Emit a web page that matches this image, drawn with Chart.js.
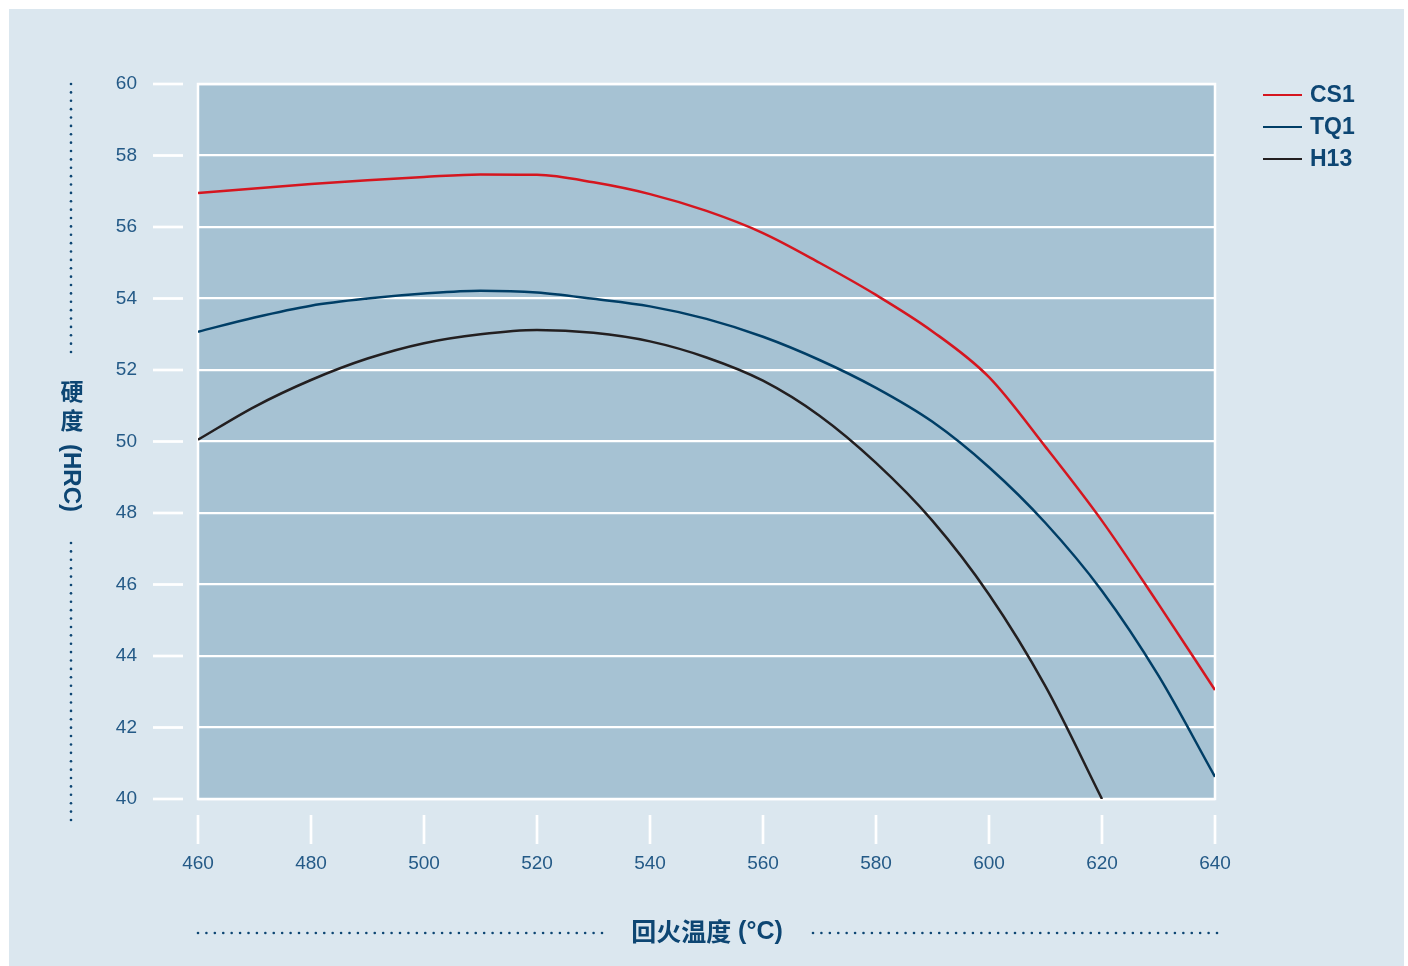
<!DOCTYPE html>
<html>
<head>
<meta charset="utf-8">
<script src="https://cdn.jsdelivr.net/npm/chart.js@4.4.0/dist/chart.umd.min.js"></script>
<style>
  html, body { margin: 0; padding: 0; background: #ffffff; }
  #wrap { width: 1408px; height: 966px; position: relative; }
</style>
</head>
<body>
<div id="wrap"><canvas id="hardnessChart"></canvas></div>
<script>
// 回火温度 (°C)
var temps = [460, 470, 480, 490, 500, 510, 520, 530, 540, 550, 560, 570, 580, 590, 600, 610, 620, 630, 640];
// 硬度 (HRC)
var cs1 = [56.95, 57.08, 57.2, 57.31, 57.4, 57.47, 57.46, 57.25, 56.92, 56.45, 55.83, 55.0, 54.1, 53.08, 51.8, 49.85, 47.78, 45.45, 43.05];
var tq1 = [53.07, 53.47, 53.8, 54.0, 54.14, 54.22, 54.17, 53.99, 53.78, 53.43, 52.93, 52.28, 51.5, 50.55, 49.28, 47.72, 45.82, 43.45, 40.62];
var h13 = [50.05, 50.97, 51.72, 52.32, 52.75, 53.0, 53.12, 53.04, 52.8, 52.35, 51.7, 50.72, 49.4, 47.78, 45.72, 43.15, 40.0, null, null];

var seriesNames = ['CS1', 'TQ1', 'H13'];
var seriesColors = ['#d5161f', '#003e66', '#231f20'];
var xTicks = [460, 480, 500, 520, 540, 560, 580, 600, 620, 640];
var yTicks = [40, 42, 44, 46, 48, 50, 52, 54, 56, 58, 60];

var panelColor = '#dbe7ef';
var plotColor = '#a6c2d3';
var textColor = '#0d4673';
var tickColor = '#245a87';

function toPoints(values) {
    var pts = [];
    for (var i = 0; i < temps.length; i++) {
        if (values[i] !== null) pts.push({ x: temps[i], y: values[i] });
    }
    return pts;
}

function dotLine(ctx, x1, y1, x2, y2) {
    var len = Math.sqrt((x2 - x1) * (x2 - x1) + (y2 - y1) * (y2 - y1));
    var n = Math.floor(len / 8.3);
    ctx.fillStyle = textColor;
    for (var i = 0; i <= n; i++) {
        var t = n ? i / n : 0;
        ctx.beginPath();
        ctx.arc(x1 + (x2 - x1) * t, y1 + (y2 - y1) * t, 1.3, 0, Math.PI * 2);
        ctx.fill();
    }
}

var decorPlugin = {
    id: 'decor',
    beforeDraw: function(chart) {
        var ctx = chart.ctx;
        var a = chart.chartArea;
        ctx.save();
        ctx.fillStyle = panelColor;
        ctx.fillRect(9, 9, 1395, 957);
        ctx.fillStyle = plotColor;
        ctx.fillRect(a.left, a.top, a.right - a.left, a.bottom - a.top);
        ctx.restore();
    },
    beforeDatasetsDraw: function(chart) {
        var ctx = chart.ctx;
        var a = chart.chartArea;
        ctx.save();
        ctx.strokeStyle = '#ffffff';
        ctx.lineWidth = 2.5;
        ctx.strokeRect(a.left, a.top, a.right - a.left, a.bottom - a.top);
        ctx.restore();
    },
    afterDraw: function(chart) {
        var ctx = chart.ctx;
        var xs = chart.scales.x;
        var ys = chart.scales.y;
        var a = chart.chartArea;
        ctx.save();

        // tick marks outside the plot
        ctx.strokeStyle = '#ffffff';
        ctx.lineWidth = 2.7;
        yTicks.forEach(function(v) {
            var y = ys.getPixelForValue(v);
            ctx.beginPath();
            ctx.moveTo(a.left - 45, y);
            ctx.lineTo(a.left - 15, y);
            ctx.stroke();
        });
        xTicks.forEach(function(v) {
            var x = xs.getPixelForValue(v);
            ctx.beginPath();
            ctx.moveTo(x, a.bottom + 16);
            ctx.lineTo(x, a.bottom + 45);
            ctx.stroke();
        });

        // y title: 硬度 (HRC)
        ctx.fillStyle = textColor;
        ctx.textAlign = 'center';
        ctx.textBaseline = 'middle';
        ctx.font = 'bold 23px "Noto Sans CJK SC"';
        ctx.fillText('硬', 72, 391);
        ctx.fillText('度', 72, 420);
        ctx.save();
        ctx.translate(72, 478);
        ctx.rotate(Math.PI / 2);
        ctx.font = 'bold 24px "Liberation Sans"';
        ctx.fillText('(HRC)', 0, 1);
        ctx.restore();
        dotLine(ctx, 71, 84, 71, 352);
        dotLine(ctx, 71, 543, 71, 820);

        // x title: 回火温度 (°C)
        var cjk = '回火温度';
        var latin = ' (°C)';
        ctx.textAlign = 'left';
        ctx.font = 'bold 25px "Noto Sans CJK SC"';
        var w1 = ctx.measureText(cjk).width;
        ctx.font = 'bold 25px "Liberation Sans"';
        var w2 = ctx.measureText(latin).width;
        var x0 = 707 - (w1 + w2) / 2;
        ctx.font = 'bold 25px "Noto Sans CJK SC"';
        ctx.fillText(cjk, x0, 931);
        ctx.font = 'bold 25px "Liberation Sans"';
        ctx.fillText(latin, x0 + w1, 932);
        dotLine(ctx, 198, 933, 602, 933);
        dotLine(ctx, 813, 933, 1217, 933);

        // legend
        ctx.font = 'bold 23px "Liberation Sans"';
        chart.data.datasets.forEach(function(ds, i) {
            var y = 95 + i * 32;
            ctx.strokeStyle = ds.borderColor;
            ctx.lineWidth = 2.2;
            ctx.beginPath();
            ctx.moveTo(1263, y);
            ctx.lineTo(1302, y);
            ctx.stroke();
            ctx.fillStyle = textColor;
            ctx.fillText(ds.label, 1310, y + 1);
        });
        ctx.restore();
    }
};

var datasets = seriesNames.map(function(name, i) {
    return {
        label: name,
        data: toPoints([cs1, tq1, h13][i]),
        borderColor: seriesColors[i],
        backgroundColor: seriesColors[i],
        borderWidth: 2.5,
        pointRadius: 0,
        cubicInterpolationMode: 'monotone',
        fill: false
    };
});

var ctx = document.getElementById('hardnessChart').getContext('2d');
var chart = new Chart(ctx, {
    type: 'line',
    data: { datasets: datasets },
    plugins: [decorPlugin],
    options: {
        responsive: true,
        maintainAspectRatio: false,
        animation: false,
        layout: { padding: { top: 84, right: 193, left: 0, bottom: 0 } },
        plugins: {
            legend: { display: false },
            tooltip: { enabled: false }
        },
        scales: {
            x: {
                type: 'linear',
                min: 460,
                max: 640,
                afterFit: function(s) { s.height = 167; },
                afterBuildTicks: function(s) { s.ticks = xTicks.map(function(v) { return { value: v }; }); },
                grid: { display: false, drawTicks: false },
                border: { display: false },
                ticks: {
                    padding: 53,
                    color: tickColor,
                    font: { family: 'Liberation Sans', size: 19 }
                }
            },
            y: {
                min: 40,
                max: 60,
                afterFit: function(s) { s.width = 198; },
                afterBuildTicks: function(s) { s.ticks = yTicks.map(function(v) { return { value: v }; }); },
                grid: { color: '#ffffff', lineWidth: 2.2, drawTicks: false },
                border: { display: false },
                ticks: {
                    padding: 61,
                    color: tickColor,
                    font: { family: 'Liberation Sans', size: 19 }
                }
            }
        }
    }
});
</script>
</body>
</html>
